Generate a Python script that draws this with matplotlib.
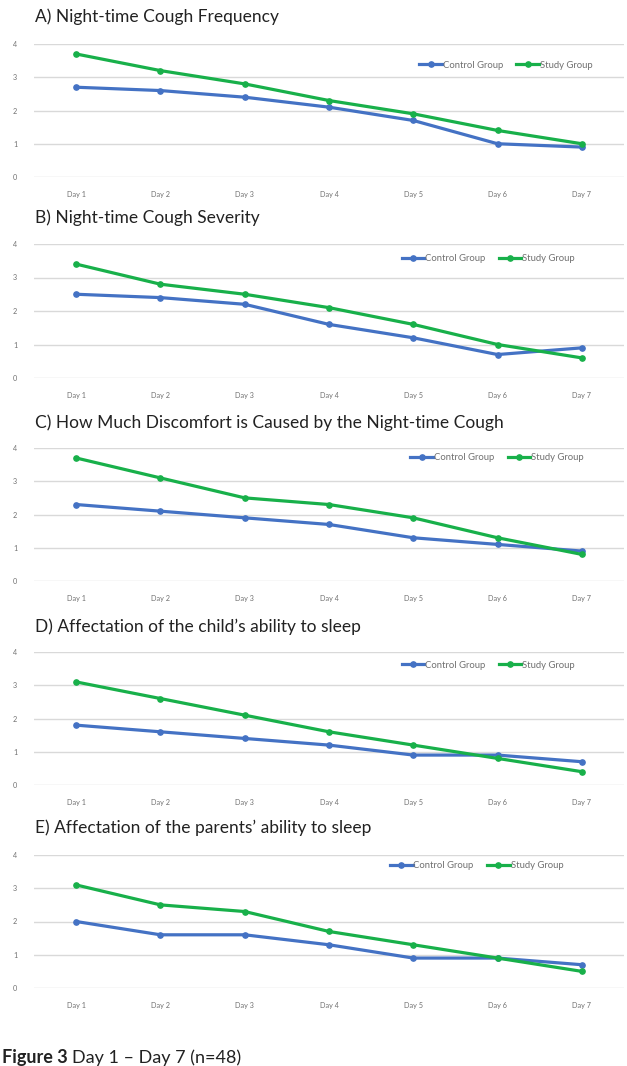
import matplotlib
matplotlib.use("Agg")
import matplotlib.pyplot as plt

days = ["Day 1", "Day 2", "Day 3", "Day 4", "Day 5", "Day 6", "Day 7"]
titles = [
    "A) Night-time Cough Frequency",
    "B) Night-time Cough Severity",
    "C) How Much Discomfort is Caused by the Night-time Cough",
    "D) Affectation of the child\u2019s ability to sleep",
    "E) Affectation of the parents\u2019 ability to sleep",
]
control_a = [2.7, 2.6, 2.4, 2.1, 1.7, 1.0, 0.9]
study_a = [3.7, 3.2, 2.8, 2.3, 1.9, 1.4, 1.0]
control_b = [2.5, 2.4, 2.2, 1.6, 1.2, 0.7, 0.9]
study_b = [3.4, 2.8, 2.5, 2.1, 1.6, 1.0, 0.6]
control_c = [2.3, 2.1, 1.9, 1.7, 1.3, 1.1, 0.9]
study_c = [3.7, 3.1, 2.5, 2.3, 1.9, 1.3, 0.8]
control_d = [1.8, 1.6, 1.4, 1.2, 0.9, 0.9, 0.7]
study_d = [3.1, 2.6, 2.1, 1.6, 1.2, 0.8, 0.4]
control_e = [2.0, 1.6, 1.6, 1.3, 0.9, 0.9, 0.7]
study_e = [3.1, 2.5, 2.3, 1.7, 1.3, 0.9, 0.5]
yticks = [0, 1, 2, 3, 4]
series_names = ["Control Group", "Study Group"]
caption_bold = "Figure 3"
caption_rest = "Day 1 \u2013 Day 7 (n=48)"

controls = [control_a, control_b, control_c, control_d, control_e]
studies = [study_a, study_b, study_c, study_d, study_e]

W, H = 627, 1066
fig = plt.figure(figsize=(W / 100, H / 100), dpi=100)
plt.rcParams['font.family'] = ['Lato', 'DejaVu Sans']

BLUE = "#4472C4"
GREEN = "#18B04A"

# pixel layout: (title_y, top gridline y, zero gridline y)
layout = [(17, 44, 177), (218, 244, 378), (423, 448, 581), (627, 652, 785), (828, 855, 988)]
legend_pos = [(0.80, 0.84), (0.77, 0.89), (0.785, 0.93), (0.77, 0.90), (0.75, 0.92)]
x0, x1 = 34, 624

for i in range(5):
    ty, top, bot = layout[i]
    ax = fig.add_axes([x0 / W, 1 - bot / H, (x1 - x0) / W, (bot - top) / H])
    xs = list(range(len(days)))
    ax.plot(xs, controls[i], color=BLUE, lw=2.3, marker="o", ms=3.8, label=series_names[0], clip_on=False, zorder=3)
    ax.plot(xs, studies[i], color=GREEN, lw=2.3, marker="o", ms=3.8, label=series_names[1], clip_on=False, zorder=4)
    ax.set_xlim(-0.5, 6.5)
    ax.set_ylim(0, 4)
    ax.set_yticks(yticks)
    ax.set_xticks(xs)
    ax.set_xticklabels(days)
    ax.grid(axis="y", color="#D9D9D9", lw=1)
    ax.set_axisbelow(True)
    for s in ax.spines.values():
        s.set_visible(False)
    ax.tick_params(length=0, labelsize=5.2, labelcolor="#707070")
    ax.tick_params(axis="y", pad=12)
    ax.tick_params(axis="x", pad=10)
    ax.legend(loc="center", bbox_to_anchor=legend_pos[i], ncol=2, frameon=False,
              fontsize=6.8, labelcolor="#707070", handlelength=2.4, columnspacing=1.4,
              handletextpad=0.1)
    fig.text(35 / W, 1 - ty / H, titles[i], fontsize=12.5, va="center", ha="left", color="#222222")

fig.text(2 / W, 1 - 1063 / H, caption_bold, fontsize=13, fontweight="bold", va="baseline", ha="left", color="#222222")
fig.text(72 / W, 1 - 1063 / H, caption_rest, fontsize=13, va="baseline", ha="left", color="#222222")

fig.savefig("out.png", dpi=100, facecolor="white")
